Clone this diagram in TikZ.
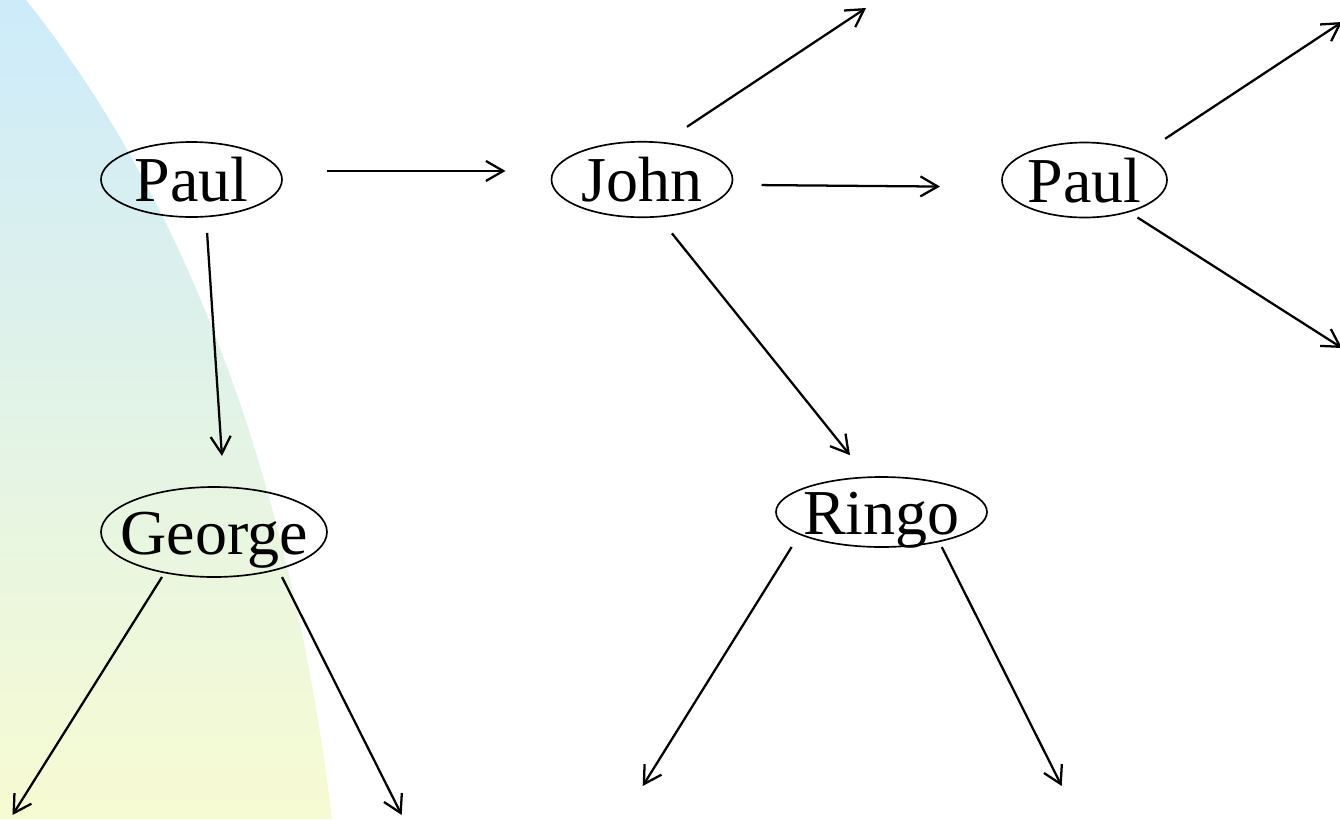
\documentclass[tikz,border=0pt]{standalone}
\usepackage{fontspec}
\setmainfont{Liberation Serif}
\usetikzlibrary{arrows.meta,shapes.geometric}
\definecolor{bgtop}{RGB}{205,235,251}
\definecolor{bgbot}{RGB}{247,251,210}
\begin{document}
\begin{tikzpicture}[x=0.75pt,y=-0.75pt,
  person/.style={ellipse,draw,line width=1.25pt,inner xsep=-15pt,inner ysep=0pt,outer sep=0pt,
    font=\fontsize{48}{57}\selectfont,text height=33.5pt,text depth=0pt},
  arr/.style={line width=1.7pt,-{Straight Barb[length=13pt,width=15pt]}}]
\useasboundingbox (0,0) rectangle (1340,819);
\shade[top color=bgtop,bottom color=bgbot] (0,0) -- (26,0) .. controls (223.6,247) and (302.4,572) .. (332,819) -- (0,819) -- cycle;

\node[person,minimum width=135.75pt,minimum height=56.25pt] (Paul1) at (191.5,179.5) {Paul};
\node[person,minimum width=135.75pt,minimum height=56.6pt] (John) at (642,179.5) {John};
\node[person,minimum width=123.75pt,minimum height=56.25pt] (Paul2) at (1084.5,180) {Paul};
\node[person,minimum width=169.5pt,minimum height=67.5pt] (George) at (214,532) {George};
\node[person,minimum width=158.25pt,minimum height=52.5pt] (Ringo) at (881.5,512) {Ringo};

\coordinate (jt) at (866,8);
\coordinate (p2a) at (1342,22);
\coordinate (p2b) at (1342,348);
\coordinate (g1) at (12.5,815);
\coordinate (g2) at (401.7,815);
\coordinate (r1) at (642.7,786);
\coordinate (r2) at (1061.7,786);

\draw[arr,shorten <=34pt,shorten >=34.5pt] ([yshift=6.4pt]Paul1.east) -- ([yshift=6.4pt]John.west);
\draw[arr,shorten <=21.75pt,shorten >=46.5pt] ([yshift=-4pt]John.east) -- ([yshift=-5.3pt]Paul2.west);
\draw[arr,shorten <=12pt,shorten >=23.3pt] ([xshift=10.9pt]Paul1.south) -- ([xshift=7.5pt]George.north);
\draw[arr,shorten <=15.5pt,shorten >=21pt] ([xshift=12.75pt]John.south) -- ([xshift=-10.5pt]Ringo.north);
\draw[arr,shorten <=20.3pt] ([xshift=16.8pt]John.north) -- (jt);
\draw[arr,shorten <=20pt] (Paul2.north east) -- (p2a);
\draw[arr] ([xshift=39.75pt]Paul2.south) -- (p2b);
\draw[arr] ([xshift=-39pt]George.south) -- (g1);
\draw[arr] ([xshift=51pt]George.south) -- (g2);
\draw[arr] ([xshift=-67.4pt]Ringo.south) -- (r1);
\draw[arr] ([xshift=45.2pt]Ringo.south) -- (r2);
\end{tikzpicture}
\end{document}
